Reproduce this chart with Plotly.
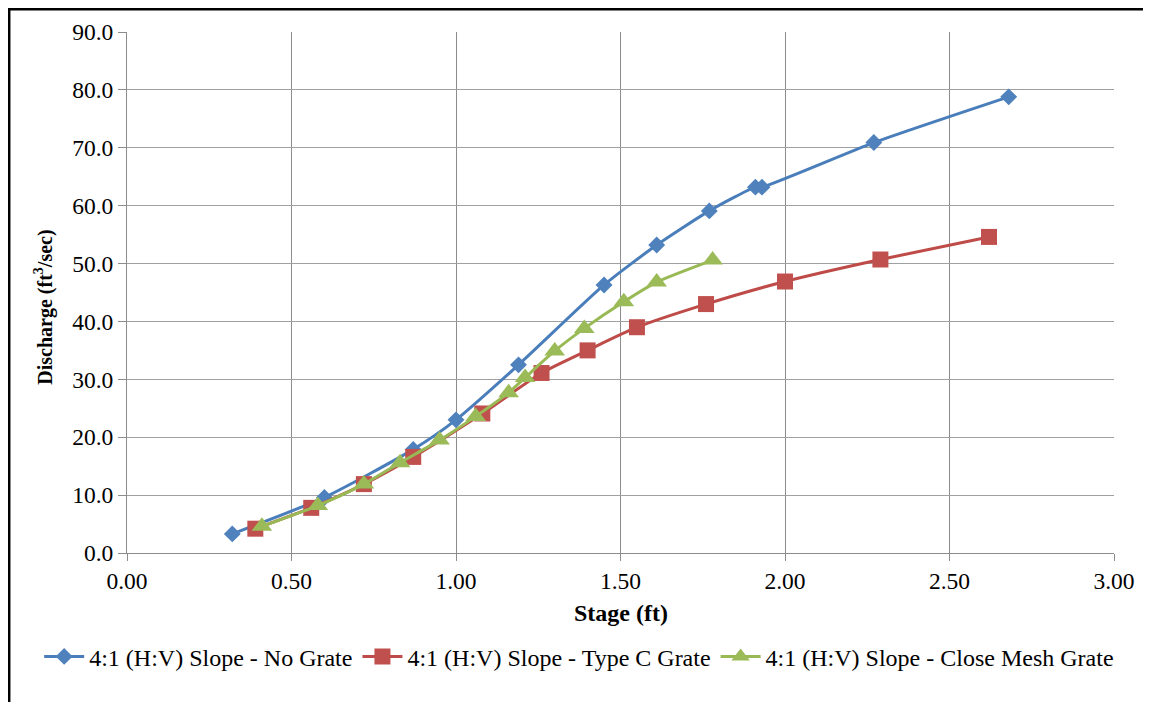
import plotly.graph_objects as go

# Data
stage_no_grate = [0.32, 0.60, 0.87, 1.00, 1.19, 1.45, 1.61, 1.77, 1.91, 1.93, 2.27, 2.68]
q_no_grate = [3.3, 9.6, 17.9, 23.0, 32.5, 46.3, 53.2, 59.1, 63.2, 63.2, 70.9, 78.8]

stage_type_c = [0.39, 0.56, 0.72, 0.87, 1.08, 1.26, 1.40, 1.55, 1.76, 2.00, 2.29, 2.62]
q_type_c = [4.2, 7.8, 11.9, 16.6, 24.1, 31.1, 35.0, 39.0, 43.0, 46.9, 50.7, 54.6]

stage_close_mesh = [0.41, 0.58, 0.72, 0.83, 0.95, 1.06, 1.16, 1.21, 1.30, 1.39, 1.51, 1.61, 1.78]
q_close_mesh = [4.6, 8.2, 11.9, 15.6, 19.5, 23.6, 27.7, 30.3, 34.9, 38.8, 43.4, 46.8, 50.6]

series_names = ["4:1 (H:V) Slope - No Grate",
                "4:1 (H:V) Slope - Type C Grate",
                "4:1 (H:V) Slope - Close Mesh Grate"]

x_ticks = [0.0, 0.5, 1.0, 1.5, 2.0, 2.5, 3.0]
y_ticks = [0, 10, 20, 30, 40, 50, 60, 70, 80, 90]

FONT = "Liberation Serif"

fig = go.Figure()
fig.add_trace(go.Scatter(
    x=stage_no_grate, y=q_no_grate, name=series_names[0], mode="lines+markers",
    line=dict(color="#4A7EBB", width=3, shape="spline", smoothing=0.6),
    marker=dict(symbol="diamond", size=13, color="#4F81BD", line=dict(width=0))))
fig.add_trace(go.Scatter(
    x=stage_type_c, y=q_type_c, name=series_names[1], mode="lines+markers",
    line=dict(color="#BE4B48", width=3, shape="spline", smoothing=0.6),
    marker=dict(symbol="square", size=16, color="#C0504D", line=dict(width=0))))
fig.add_trace(go.Scatter(
    x=stage_close_mesh, y=q_close_mesh, name=series_names[2], mode="lines+markers",
    line=dict(color="#98B954", width=3, shape="spline", smoothing=0.6),
    marker=dict(symbol="triangle-up", size=18, color="#9BBB59", line=dict(width=0))))

fig.update_layout(
    width=1143, height=694,
    margin=dict(l=119, r=37, t=24, b=149),
    paper_bgcolor="white", plot_bgcolor="white",
    font=dict(family=FONT, size=23, color="black"),
    showlegend=True,
    legend=dict(orientation="h", x=-0.089, xanchor="left", y=-0.156, yanchor="top",
                font=dict(family=FONT, size=24, color="black"),
                itemwidth=40, tracegroupgap=0, bgcolor="rgba(0,0,0,0)"),
)
fig.update_xaxes(
    range=[0, 3], tickvals=x_ticks, ticktext=[f"{v:.2f}" for v in x_ticks],
    showgrid=True, gridcolor="#8C8C8C", gridwidth=1,
    showline=True, linecolor="#8C8C8C", linewidth=1,
    ticks="outside", ticklen=7, tickcolor="#8C8C8C",
    tickfont=dict(family=FONT, size=23.5), zeroline=False, mirror=False)
fig.update_yaxes(
    range=[0, 90], tickvals=y_ticks, ticktext=[f"{v:.1f}" for v in y_ticks],
    showgrid=True, gridcolor="#A0A0A0", gridwidth=1,
    showline=True, linecolor="#8C8C8C", linewidth=1,
    ticks="outside", ticklen=8, tickcolor="#8C8C8C",
    tickfont=dict(family=FONT, size=23.5), zeroline=False)

fig.add_annotation(text="<b>Stage (ft)</b>", xref="paper", yref="paper",
                   x=0.5, y=-0.116, xanchor="center", yanchor="middle",
                   showarrow=False, font=dict(family=FONT, size=24))
fig.add_annotation(text="<b>Discharge (ft<sup>3</sup>/sec)</b>", xref="paper", yref="paper",
                   x=-0.084, y=0.471, xanchor="center", yanchor="middle", textangle=-90,
                   showarrow=False, font=dict(family=FONT, size=20))

# Black frame lines on top and left edges
fig.add_shape(type="line", xref="paper", yref="paper",
              x0=-0.1215, x1=1.04, y0=1.044, y1=1.044, line=dict(color="black", width=3))
fig.add_shape(type="line", xref="paper", yref="paper",
              x0=-0.1196, x1=-0.1196, y0=1.046, y1=-0.29, line=dict(color="black", width=3))

fig.write_html("out.html")
